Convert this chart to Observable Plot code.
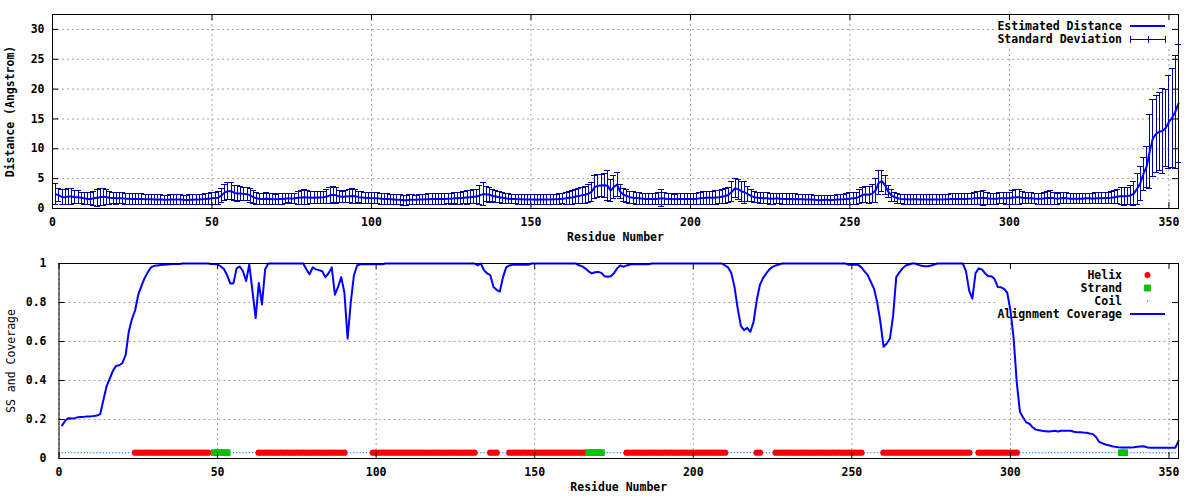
<!DOCTYPE html>
<html>
<head>
<meta charset="utf-8">
<script src="https://cdn.jsdelivr.net/npm/d3@7"></script>
<script src="https://cdn.jsdelivr.net/npm/@observablehq/plot@0.6"></script>
<style>
html, body { margin: 0; padding: 0; background: #ffffff; }
#chart svg { display: block; }
</style>
</head>
<body>
<div id="chart"></div>
<script>
// ---------- data ----------
const xTicks = [0, 50, 100, 150, 200, 250, 300, 350];
const distTicks = [0, 5, 10, 15, 20, 25, 30];
const covTicks = [0, 0.2, 0.4, 0.6, 0.8, 1];
const firstResidue = 1;

// Estimated distance per residue (Angstrom)
const distance = [
  2.4, 2.2, 1.9, 1.9, 2.0, 2.0, 1.9, 1.9, 1.8, 1.7,
  1.6, 1.6, 1.7, 1.8, 1.9, 1.95, 1.9, 1.8, 1.75, 1.7,
  1.7, 1.7, 1.65, 1.65, 1.6, 1.6, 1.6, 1.6, 1.55, 1.55,
  1.55, 1.5, 1.5, 1.5, 1.45, 1.45, 1.5, 1.5, 1.5, 1.5,
  1.45, 1.4, 1.45, 1.45, 1.5, 1.5, 1.55, 1.6, 1.65, 1.7,
  1.75, 1.8, 2.2, 2.7, 2.9, 2.9, 2.6, 2.5, 2.5, 2.45,
  2.4, 2.2, 1.9, 1.7, 1.6, 1.6, 1.65, 1.6, 1.55, 1.55,
  1.6, 1.6, 1.65, 1.7, 1.65, 1.7, 1.8, 1.85, 1.9, 1.85,
  1.8, 1.8, 1.85, 1.85, 1.9, 2.0, 2.2, 2.3, 2.2, 2.0,
  1.95, 2.0, 2.05, 2.1, 2.05, 1.9, 1.85, 1.8, 1.75, 1.7,
  1.7, 1.7, 1.65, 1.6, 1.6, 1.55, 1.5, 1.45, 1.45, 1.4,
  1.4, 1.45, 1.45, 1.45, 1.5, 1.5, 1.55, 1.55, 1.6, 1.6,
  1.6, 1.6, 1.6, 1.65, 1.65, 1.7, 1.7, 1.75, 1.8, 1.85,
  1.9, 1.95, 2.0, 2.2, 2.4, 2.4, 2.3, 2.1, 2.0, 1.9,
  1.8, 1.7, 1.65, 1.6, 1.6, 1.55, 1.55, 1.5, 1.5, 1.5,
  1.5, 1.45, 1.5, 1.5, 1.5, 1.5, 1.55, 1.55, 1.6, 1.65,
  1.7, 1.8, 1.85, 2.0, 2.1, 2.2, 2.3, 2.5, 2.8, 3.6,
  3.8, 3.85, 3.9, 3.8, 3.0, 3.6, 4.0, 2.8, 2.3, 2.1,
  1.9, 1.8, 1.75, 1.7, 1.65, 1.6, 1.6, 1.6, 1.6, 1.65,
  1.7, 1.65, 1.6, 1.6, 1.55, 1.6, 1.6, 1.6, 1.6, 1.6,
  1.6, 1.65, 1.7, 1.75, 1.8, 1.8, 1.8, 1.85, 1.9, 2.0,
  2.1, 2.3, 2.8, 3.4, 3.2, 2.9, 2.7, 2.4, 2.1, 1.9,
  1.8, 1.75, 1.7, 1.7, 1.65, 1.65, 1.7, 1.65, 1.6, 1.6,
  1.6, 1.55, 1.6, 1.55, 1.55, 1.5, 1.5, 1.5, 1.45, 1.4,
  1.4, 1.45, 1.45, 1.4, 1.45, 1.5, 1.5, 1.55, 1.6, 1.65,
  1.7, 1.75, 2.0, 2.3, 2.35, 2.3, 2.5, 3.0, 4.3, 4.6,
  3.9, 2.8, 2.2, 1.9, 1.7, 1.6, 1.55, 1.55, 1.5, 1.55,
  1.55, 1.5, 1.5, 1.5, 1.5, 1.5, 1.5, 1.5, 1.5, 1.55,
  1.55, 1.6, 1.6, 1.6, 1.6, 1.6, 1.65, 1.65, 1.7, 1.7,
  1.75, 1.75, 1.7, 1.65, 1.65, 1.65, 1.7, 1.7, 1.7, 1.75,
  1.85, 1.9, 1.9, 1.8, 1.75, 1.7, 1.7, 1.65, 1.65, 1.65,
  1.7, 1.75, 1.8, 1.7, 1.65, 1.7, 1.75, 1.7, 1.65, 1.65,
  1.65, 1.65, 1.65, 1.7, 1.7, 1.65, 1.7, 1.7, 1.7, 1.75,
  1.75, 1.8, 1.9, 2.0, 2.05, 2.05, 2.1, 2.2, 2.5, 3.3,
  4.2, 5.8, 7.0, 9.6, 11.8, 12.5, 12.9, 13.0, 13.5, 14.5,
  15.2, 16.2, 17.6
];

// Standard deviation per residue (Angstrom)
const stdDev = [
  1.8, 1.1, 1.2, 1.3, 1.3, 1.35, 1.1, 1.05, 0.95, 0.95,
  1.0, 1.0, 1.2, 1.4, 1.4, 1.45, 1.2, 1.1, 0.95, 0.95,
  0.9, 0.9, 0.9, 0.9, 0.9, 0.85, 0.85, 0.85, 0.85, 0.85,
  0.8, 0.8, 0.8, 0.8, 0.8, 0.8, 0.8, 0.8, 0.85, 0.8,
  0.8, 0.8, 0.85, 0.85, 0.8, 0.8, 0.8, 0.85, 0.9, 0.95,
  1.0, 1.1, 1.2, 1.4, 1.45, 1.4, 1.2, 1.3, 1.2, 1.05,
  1.1, 1.2, 1.1, 1.0, 0.95, 0.95, 1.0, 0.9, 0.9, 0.85,
  0.85, 0.85, 0.8, 0.75, 0.8, 0.85, 1.1, 1.2, 1.2, 1.1,
  1.0, 1.0, 1.0, 1.0, 1.0, 1.1, 1.4, 1.35, 1.3, 1.0,
  0.9, 1.0, 1.1, 1.25, 1.2, 0.95, 0.95, 0.9, 0.9, 0.9,
  0.9, 0.9, 0.9, 0.9, 0.9, 0.85, 0.85, 0.85, 0.85, 0.85,
  0.85, 0.85, 0.85, 0.8, 0.85, 0.85, 0.85, 0.9, 0.9, 0.9,
  0.9, 0.85, 0.85, 0.85, 0.9, 0.9, 0.95, 1.0, 1.0, 1.1,
  1.1, 1.15, 1.2, 1.6, 1.95, 1.3, 1.25, 1.0, 1.0, 0.95,
  0.9, 0.8, 0.8, 0.8, 0.8, 0.85, 0.85, 0.85, 0.85, 0.85,
  0.8, 0.85, 0.8, 0.85, 0.85, 0.8, 0.85, 0.85, 0.85, 0.85,
  1.0, 1.1, 1.1, 1.2, 1.3, 1.35, 1.4, 1.5, 1.6, 2.0,
  1.95, 1.9, 2.0, 2.5, 1.9, 2.0, 2.0, 1.2, 1.1, 1.1,
  1.0, 1.0, 1.0, 0.95, 0.9, 0.9, 0.9, 0.9, 0.95, 1.05,
  1.4, 1.0, 0.9, 0.85, 0.85, 0.85, 0.85, 0.85, 0.85, 0.85,
  0.85, 0.9, 1.0, 1.1, 1.1, 1.1, 1.05, 1.1, 1.1, 1.2,
  1.3, 1.3, 1.7, 1.6, 1.7, 1.7, 1.8, 1.3, 1.0, 0.9,
  0.85, 0.85, 0.9, 0.9, 0.9, 0.9, 0.85, 0.85, 0.9, 0.9,
  0.9, 0.9, 0.85, 0.85, 0.85, 0.85, 0.85, 0.8, 0.8, 0.8,
  0.8, 0.75, 0.8, 0.8, 0.75, 0.8, 0.8, 0.8, 0.85, 0.95,
  1.0, 1.0, 1.2, 1.3, 1.35, 1.4, 1.5, 2.0, 2.0, 1.8,
  1.6, 1.0, 1.0, 0.8, 0.8, 0.8, 0.8, 0.8, 0.8, 0.8,
  0.8, 0.8, 0.8, 0.85, 0.85, 0.85, 0.85, 0.8, 0.8, 0.8,
  0.85, 0.85, 0.85, 0.9, 0.9, 0.9, 0.9, 0.9, 1.0, 1.1,
  1.15, 1.2, 1.0, 0.9, 0.9, 0.9, 0.9, 0.9, 0.95, 1.0,
  1.2, 1.25, 1.2, 1.0, 0.95, 0.9, 0.9, 0.85, 0.9, 0.9,
  1.0, 1.1, 1.15, 1.0, 0.9, 0.9, 0.95, 0.9, 0.85, 0.85,
  0.85, 0.85, 0.85, 0.85, 0.85, 0.85, 0.9, 0.9, 0.9, 0.9,
  0.95, 1.0, 1.1, 1.2, 1.4, 1.5, 1.5, 1.6, 2.0, 2.6,
  2.8, 2.8, 3.4, 6.2, 6.4, 6.5, 6.6, 7.1, 6.5, 7.8,
  8.3, 9.5, 9.9
];

// Alignment coverage per residue (fraction)
const coverage = [
  0.17, 0.195, 0.207, 0.205, 0.207, 0.212, 0.213, 0.214, 0.216, 0.216,
  0.218, 0.22, 0.228, 0.30, 0.37, 0.41, 0.45, 0.475, 0.478, 0.49,
  0.53, 0.65, 0.715, 0.76, 0.84, 0.885, 0.925, 0.955, 0.98, 0.988,
  0.99, 0.992, 0.994, 0.995, 0.996, 0.997, 0.998, 0.998, 1, 1,
  1, 1, 1, 1, 1, 1, 1, 0.998, 0.997, 0.995,
  0.985, 0.972, 0.94, 0.898, 0.898, 0.975, 0.985, 0.96, 0.91, 0.995,
  0.86, 0.72, 0.9, 0.79, 0.97, 1, 1, 1, 1, 1,
  1, 1, 1, 1, 1, 1, 1, 0.97, 0.945, 0.98,
  0.97, 0.966, 0.96, 0.93, 0.95, 0.98, 0.84, 0.88, 0.93, 0.85,
  0.615, 0.8, 0.94, 0.99, 0.996, 0.996, 0.996, 0.996, 0.996, 0.996,
  0.996, 0.996, 1, 1, 1, 1, 1, 1, 1, 1,
  1, 1, 1, 1, 1, 1, 1, 1, 1, 1,
  1, 1, 1, 1, 1, 1, 1, 1, 1, 1,
  1, 0.99, 1, 0.966, 0.949, 0.94, 0.88, 0.865, 0.856, 0.93,
  0.98, 0.99, 0.993, 0.993, 0.993, 0.993, 0.993, 0.993, 1, 1,
  1, 1, 1, 1, 1, 1, 1, 1, 1, 1,
  1, 1, 1, 0.991, 0.985, 0.974, 0.96, 0.949, 0.955, 0.957,
  0.952, 0.935, 0.932, 0.935, 0.95, 0.975, 0.99, 0.983, 0.99, 0.995,
  0.996, 0.996, 0.996, 0.996, 0.996, 0.996, 1, 1, 1, 1,
  1, 1, 1, 1, 1, 1, 1, 1, 1, 1,
  1, 1, 1, 1, 1, 1, 1, 1, 1, 0.99,
  0.98, 0.95, 0.88, 0.77, 0.68, 0.658, 0.67, 0.65, 0.7, 0.81,
  0.89, 0.925, 0.949, 0.97, 0.983, 0.99, 0.995, 1, 1, 1,
  1, 1, 1, 1, 1, 1, 1, 1, 1, 1,
  1, 1, 1, 1, 1, 1, 1, 1, 0.993, 0.993,
  0.993, 0.993, 0.98, 0.96, 0.94, 0.905, 0.87, 0.8, 0.7, 0.573,
  0.59, 0.615, 0.73, 0.93, 0.955, 0.975, 0.99, 0.995, 1, 1,
  0.993, 0.988, 0.986, 0.986, 0.99, 0.995, 1, 1, 1, 1,
  1, 1, 1, 1, 1, 0.96, 0.86, 0.82, 0.95, 0.975,
  0.97, 0.95, 0.935, 0.935, 0.92, 0.88, 0.878, 0.87, 0.85, 0.76,
  0.62, 0.39, 0.24, 0.21, 0.185, 0.178, 0.16, 0.148, 0.145, 0.142,
  0.14, 0.138, 0.14, 0.142, 0.138, 0.142, 0.142, 0.142, 0.142, 0.137,
  0.135, 0.135, 0.133, 0.132, 0.128, 0.125, 0.11, 0.085, 0.078, 0.072,
  0.068, 0.063, 0.06, 0.058, 0.057, 0.056, 0.056, 0.057, 0.058, 0.06,
  0.062, 0.063, 0.058, 0.055, 0.055, 0.055, 0.055, 0.055, 0.055, 0.055,
  0.055, 0.055, 0.09
];

// Secondary structure segments [first residue, last residue]
const helixSegments = [[24, 47], [63, 90], [99, 131], [136, 138], [142, 166], [179, 210], [220, 221], [226, 253], [260, 287], [290, 302]];
const strandSegments = [[49, 53], [167, 171], [335, 336]];
const ssLevel = 0.03;

// ---------- derived tables ----------
const residues = distance.map((_, i) => i + firstResidue);
const distRows = residues.map((r, i) => ({r, d: distance[i], sd: stdDev[i]}));
const covRows = coverage.map((c, i) => ({r: i + firstResidue, c}));
const inSeg = (segs, r) => segs.some(([a, b]) => r >= a && r <= b);
const helixRows = residues.filter(r => inSeg(helixSegments, r)).map(r => ({r, y: ssLevel}));
const strandRows = residues.filter(r => inSeg(strandSegments, r)).map(r => ({r, y: ssLevel}));
const coilRows = residues.filter(r => !inSeg(helixSegments, r) && !inSeg(strandSegments, r)).map(r => ({r, y: ssLevel}));

// ---------- styling ----------
const FONT = "'DejaVu Sans Mono', monospace";
const gridColor = "#a0a0a0";
const lineBlue = "#0000ff";
const sdColor = "#00009c";
const helixColor = "#ff0000";
const strandColor = "#00c000";
const coilColor = "#0080ff";
const W = 1200, H = 250;

function grid(yTicks) {
  return [
    Plot.ruleX(xTicks, {stroke: gridColor, strokeDasharray: "2,3", strokeWidth: 1}),
    Plot.ruleY(yTicks, {stroke: gridColor, strokeDasharray: "2,3", strokeWidth: 1})
  ];
}
function innerTicks(yTicks, ml, mr, mt, mb) {
  const pw = W - ml - mr, ph = H - mt - mb;
  return [
    Plot.tickX(xTicks, {x: d => d, insetTop: ph - 6, stroke: "black"}),
    Plot.tickX(xTicks, {x: d => d, insetBottom: ph - 6, stroke: "black"}),
    Plot.tickY(yTicks, {y: d => d, insetRight: pw - 6, stroke: "black"}),
    Plot.tickY(yTicks, {y: d => d, insetLeft: pw - 6, stroke: "black"})
  ];
}
function legendBg(height) {
  return (index, scales, values, dims) => {
    const R = dims.width - dims.marginRight;
    const g = d3.create("svg:g");
    g.append("rect").attr("x", R - 181).attr("y", dims.marginTop + 1)
      .attr("width", 173).attr("height", height).attr("fill", "white");
    return g.node();
  };
}

// ---------- top chart ----------
const tm = {l: 52, r: 22, t: 14, b: 42};
function topLegend(index, scales, values, dims) {
  const R = dims.width - dims.marginRight, T = dims.marginTop;
  const tx = R - 56, x1 = R - 48, x2 = R - 13, xm = (x1 + x2) / 2;
  const g = d3.create("svg:g");
  const rows = [T + 12, T + 25];
  g.append("text").attr("x", tx).attr("y", rows[0]).attr("dy", "0.35em").attr("text-anchor", "end").text("Estimated Distance");
  g.append("line").attr("x1", x1).attr("x2", x2).attr("y1", rows[0]).attr("y2", rows[0]).attr("stroke", lineBlue).attr("stroke-width", 2);
  g.append("text").attr("x", tx).attr("y", rows[1]).attr("dy", "0.35em").attr("text-anchor", "end").text("Standard Deviation");
  const e = g.append("g").attr("stroke", sdColor).attr("stroke-width", 1).attr("shape-rendering", "crispEdges");
  e.append("line").attr("x1", x1).attr("x2", x2).attr("y1", rows[1] + 0.5).attr("y2", rows[1] + 0.5);
  for (const x of [x1, xm, x2]) e.append("line").attr("x1", x + 0.5).attr("x2", x + 0.5).attr("y1", rows[1] - 3).attr("y2", rows[1] + 4);
  return g.node();
}

const errStyle = {stroke: sdColor, strokeWidth: 1, shapeRendering: "crispEdges"};
const topChart = Plot.plot({
  width: W, height: H,
  marginLeft: tm.l, marginRight: tm.r, marginTop: tm.t, marginBottom: tm.b,
  style: {fontFamily: FONT, fontSize: "11.5px", fontWeight: "bold", background: "white", color: "black"},
  x: {domain: [0, 353], ticks: xTicks, tickSize: 0, tickPadding: 9, tickFormat: d => String(d), label: null},
  y: {domain: [0, 32.5], ticks: distTicks, tickSize: 0, tickPadding: 8, tickFormat: d => String(d), label: null},
  marks: [
    ...grid(distTicks),
    legendBg(33),
    Plot.ruleX(distRows, {x: "r", y1: d => d.d - d.sd, y2: d => d.d + d.sd, ...errStyle}),
    Plot.ruleY(distRows, {y: d => d.d + d.sd, x1: d => d.r - 0.95, x2: d => d.r + 0.95, ...errStyle}),
    Plot.ruleY(distRows, {y: d => d.d - d.sd, x1: d => d.r - 0.95, x2: d => d.r + 0.95, ...errStyle}),
    Plot.line(distRows, {x: "r", y: "d", stroke: lineBlue, strokeWidth: 2}),
    Plot.frame({stroke: "black"}),
    ...innerTicks(distTicks, tm.l, tm.r, tm.t, tm.b),
    topLegend,
    Plot.text(["Residue Number"], {frameAnchor: "bottom", dy: 32, text: d => d}),
    Plot.text(["Distance (Angstrom)"], {frameAnchor: "left", textAnchor: "middle", dx: -42, rotate: -90, text: d => d})
  ]
});

// ---------- bottom chart ----------
const bm = {l: 58.5, r: 22, t: 13, b: 42};
function bottomLegend(index, scales, values, dims) {
  const R = dims.width - dims.marginRight, T = dims.marginTop;
  const tx = R - 56, x1 = R - 48, x2 = R - 13, xm = (x1 + x2) / 2;
  const g = d3.create("svg:g");
  const labels = ["Helix", "Strand", "Coil", "Alignment Coverage"];
  const rows = labels.map((_, i) => T + 12 + 13 * i);
  labels.forEach((t, i) => g.append("text").attr("x", tx).attr("y", rows[i]).attr("dy", "0.35em").attr("text-anchor", "end").text(t));
  g.append("circle").attr("cx", xm).attr("cy", rows[0]).attr("r", 3).attr("fill", helixColor);
  g.append("rect").attr("x", xm - 3.4).attr("y", rows[1] - 3.4).attr("width", 6.8).attr("height", 6.8).attr("fill", strandColor);
  g.append("rect").attr("x", xm - 0.5).attr("y", rows[2] - 0.5).attr("width", 1.2).attr("height", 1.2).attr("fill", coilColor);
  g.append("line").attr("x1", x1).attr("x2", x2).attr("y1", rows[3]).attr("y2", rows[3]).attr("stroke", lineBlue).attr("stroke-width", 2);
  return g.node();
}

const bottomChart = Plot.plot({
  width: W, height: H,
  marginLeft: bm.l, marginRight: bm.r, marginTop: bm.t, marginBottom: bm.b,
  style: {fontFamily: FONT, fontSize: "11.5px", fontWeight: "bold", background: "white", color: "black"},
  x: {domain: [0, 353], ticks: xTicks, tickSize: 0, tickPadding: 9, tickFormat: d => String(d), label: null},
  y: {domain: [0, 1], ticks: covTicks, tickSize: 0, tickPadding: 12.5, tickFormat: d => String(d), label: null},
  marks: [
    ...grid(covTicks),
    legendBg(56),
    Plot.dot(coilRows, {x: "r", y: "y", r: 0.7, fill: coilColor, stroke: null}),
    Plot.dot(helixRows, {x: "r", y: "y", r: 3.2, fill: helixColor, stroke: null}),
    Plot.dot(strandRows, {x: "r", y: "y", r: 3.8, symbol: "square", fill: strandColor, stroke: null}),
    Plot.line(covRows, {x: "r", y: "c", stroke: lineBlue, strokeWidth: 2}),
    Plot.frame({stroke: "black"}),
    ...innerTicks(covTicks, bm.l, bm.r, bm.t, bm.b),
    bottomLegend,
    Plot.text(["Residue Number"], {frameAnchor: "bottom", dy: 32, text: d => d}),
    Plot.text(["SS and Coverage"], {frameAnchor: "left", textAnchor: "middle", dx: -47.5, rotate: -90, fontWeight: "normal", text: d => d})
  ]
});

const root = document.getElementById("chart");
root.appendChild(topChart);
root.appendChild(bottomChart);
</script>
</body>
</html>
